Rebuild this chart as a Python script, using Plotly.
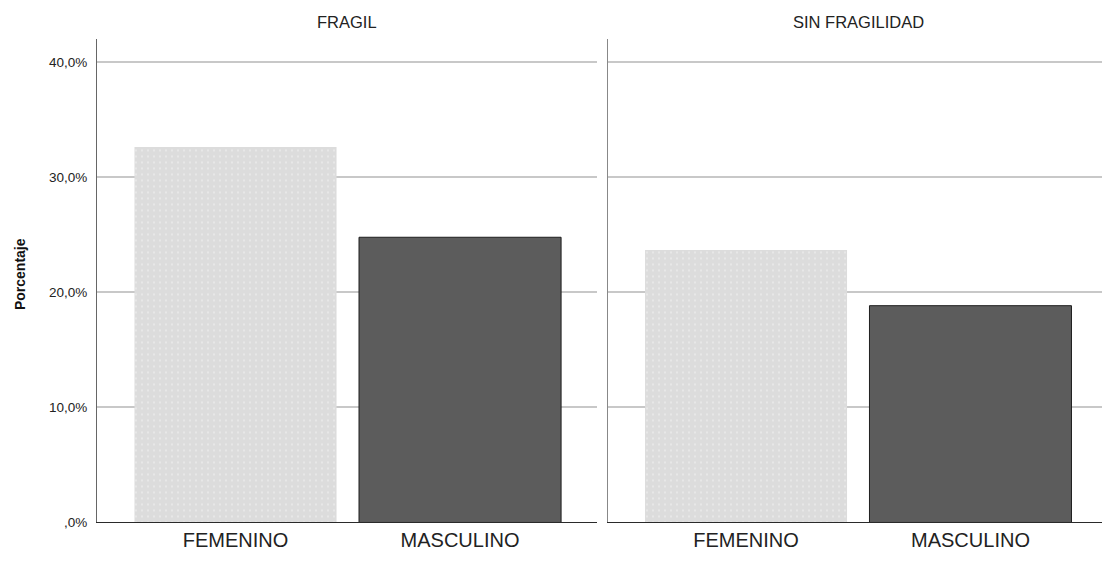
import plotly.graph_objects as go

categories = ["FEMENINO", "MASCULINO"]
panels = ["FRAGIL", "SIN FRAGILIDAD"]
fragil_values = [32.65, 24.8]
sin_fragilidad_values = [23.7, 18.85]
y_ticks = [0, 10, 20, 30, 40]
y_tick_labels = [",0%", "10,0%", "20,0%", "30,0%", "40,0%"]

W, H = 1102, 564
FONT = "Liberation Sans, Arial, sans-serif"

def px_x(p):
    return p / W

def px_y(p):
    return 1 - p / H

fig = go.Figure()

for i, vals in enumerate([fragil_values, sin_fragilidad_values]):
    xa = "x" if i == 0 else "x2"
    ya = "y" if i == 0 else "y2"
    fig.add_trace(go.Bar(x=[0], y=[vals[0]], width=0.9, xaxis=xa, yaxis=ya,
                         marker=dict(color="#dcdcdc",
                                     line=dict(color="#dcdcdc", width=0),
                                     pattern=dict(shape=".", fgcolor="#f7f7f7",
                                                  bgcolor="#dcdcdc", size=6,
                                                  solidity=0.1)),
                         showlegend=False, hoverinfo="skip"))
    fig.add_trace(go.Bar(x=[1], y=[vals[1]], width=0.9, xaxis=xa, yaxis=ya,
                         marker=dict(color="#5c5c5c",
                                     line=dict(color="#1e1e1e", width=1)),
                         showlegend=False, hoverinfo="skip"))

ydom = [px_y(530), px_y(40)]
yaxis_common = dict(range=[0, 42], tickvals=y_ticks, showgrid=True,
                    gridcolor="#c8c8c8", gridwidth=1.5, zeroline=False,
                    domain=ydom, fixedrange=True)

fig.update_layout(
    width=W, height=H,
    margin=dict(l=0, r=0, t=0, b=0),
    paper_bgcolor="white", plot_bgcolor="white",
    font=dict(family=FONT, color="#222222"),
    barmode="overlay",
    xaxis=dict(domain=[px_x(97), px_x(597)], range=[-0.617, 1.61],
               tickvals=[0, 1], ticktext=categories, showgrid=False,
               zeroline=False, showline=True, linecolor="#2a2a2a", linewidth=1,
               ticks="", tickfont=dict(size=20, color="#222222"), anchor="y",
               fixedrange=True),
    xaxis2=dict(domain=[px_x(608), 1.0], range=[-0.615, 1.586],
                tickvals=[0, 1], ticktext=categories, showgrid=False,
                zeroline=False, showline=True, linecolor="#2a2a2a", linewidth=1,
                ticks="", tickfont=dict(size=20, color="#222222"), anchor="y2",
                fixedrange=True),
    yaxis=dict(**yaxis_common, ticktext=y_tick_labels, showline=True,
               linecolor="#666666", linewidth=1, ticks="", ticklabelstandoff=6,
               tickfont=dict(size=13.5, color="#222222"), anchor="x"),
    yaxis2=dict(**yaxis_common, showticklabels=False, showline=True,
                linecolor="#888888", linewidth=1, ticks="", anchor="x2"),
)

fig.add_annotation(text=panels[0], x=px_x(347), y=px_y(22), xref="paper", yref="paper",
                   showarrow=False, xanchor="center", yanchor="middle",
                   font=dict(size=16.5, color="#222222"))
fig.add_annotation(text=panels[1], x=px_x(858), y=px_y(22), xref="paper", yref="paper",
                   showarrow=False, xanchor="center", yanchor="middle",
                   font=dict(size=16.5, color="#222222"))
fig.add_annotation(text="<b>Porcentaje</b>", x=px_x(20), y=px_y(278), xref="paper",
                   yref="paper", showarrow=False, textangle=-90,
                   xanchor="center", yanchor="middle",
                   font=dict(size=14, color="#111111"))

fig.write_html("out.html", config={"displayModeBar": False},
               post_script="document.body.style.margin='0px';document.body.style.overflow='hidden';")
